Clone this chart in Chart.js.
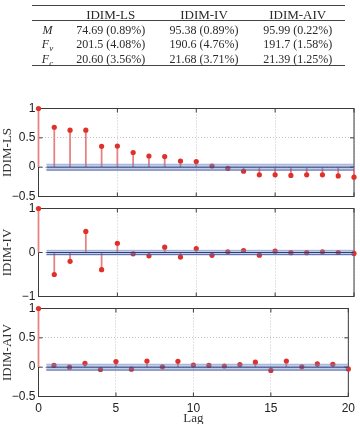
<!DOCTYPE html>
<html><head><meta charset="utf-8">
<script src="https://cdn.jsdelivr.net/npm/chart.js@4.4.0/dist/chart.umd.min.js"></script>
<style>
html,body{margin:0;padding:0;background:#fff;}
#wrap{position:relative;width:360px;height:424px;overflow:hidden;}
canvas{position:absolute;left:0;top:0;}
.t{position:absolute;font-family:"Liberation Serif","Times New Roman",serif;font-size:12px;line-height:12px;color:#2a2a2a;white-space:nowrap;transform:translateX(-50%);}
.t.h{font-size:13px;line-height:13px;}
.t sub{font-size:9px;line-height:9px;vertical-align:baseline;position:relative;top:3px;}
.rule{position:absolute;left:32px;width:313px;background:#444;}
</style></head>
<body><div id="wrap">
<canvas id="c1" width="360" height="424"></canvas>
<canvas id="c2" width="360" height="424"></canvas>
<canvas id="c3" width="360" height="424"></canvas>
</div>
<script>
// ---- data ----
const lags = [0,1,2,3,4,5,6,7,8,9,10,11,12,13,14,15,16,17,18,19,20];
const acfLS  = [1,0.68,0.63,0.63,0.355,0.36,0.25,0.19,0.18,0.105,0.095,0.02,-0.02,-0.07,-0.13,-0.13,-0.14,-0.13,-0.13,-0.15,-0.17];
const acfIV  = [1,-0.50,-0.20,0.48,-0.39,0.21,-0.03,-0.075,0.12,-0.105,0.09,-0.065,0.015,0.045,-0.06,0.03,-0.005,-0.005,0.015,0.0,-0.02];
const acfAIV = [1,0.03,0.0,0.065,-0.04,0.095,-0.035,0.105,0.005,0.10,0.035,0.03,0.02,0.045,0.085,-0.055,0.105,0.005,0.055,0.05,-0.03];
const confBound = 0.05;
const xTicks = [0,5,10,15,20];
const yTicksLS = [-0.5,0,0.5,1];
const yTicksIV = [-1,0,1];
const yTicksAIV = [-0.5,0,0.5,1];
const seriesNames = ['IDIM-LS','IDIM-IV','IDIM-AIV'];
const xTitle = 'Lag';

const tableHeaders = ['IDIM-LS','IDIM-IV','IDIM-AIV'];
const tableRowLabels = ['<i>M</i>','<i>F<sub>v</sub></i>','<i>F<sub>c</sub></i>'];
const tableM  = ['74.69 (0.89%)','95.38 (0.89%)','95.99 (0.22%)'];
const tableFv = ['201.5 (4.08%)','190.6 (4.76%)','191.7 (1.58%)'];
const tableFc = ['20.60 (3.56%)','21.68 (3.71%)','21.39 (1.25%)'];

// ---- table ----
const wrap = document.getElementById('wrap');
function addText(html, x, y, cls){
  const d = document.createElement('div');
  d.className = 't' + (cls ? ' ' + cls : '');
  d.innerHTML = html;
  d.style.left = x + 'px';
  d.style.top = y + 'px';
  wrap.appendChild(d);
}
function addRule(y, h){
  const d = document.createElement('div');
  d.className = 'rule';
  d.style.top = y + 'px';
  d.style.height = h + 'px';
  wrap.appendChild(d);
}
const colX = [110.7, 204, 297.7];
const labelX = 47.5;
addRule(5, 1.2); addRule(20.3, 0.7); addRule(65.2, 1.2);
tableHeaders.forEach((h,i)=>addText(h, colX[i], 7.5, 'h'));
const rowsVals = [tableM, tableFv, tableFc];
const rowY = [23.5, 37.5, 52.5];
rowsVals.forEach((row,r)=>{
  addText(tableRowLabels[r], labelX, rowY[r]);
  row.forEach((v,i)=>addText(v, colX[i], rowY[r]));
});

// ---- charts ----
function fmt(v){ return (v < 0 ? '\u2212' : '') + Math.abs(v); }

function makeChart(id, values, yTicks, name, areaTop, areaBottom, showX){
  const yMin = yTicks[0], yMax = yTicks[yTicks.length-1];
  const xH = showX ? 27 : 0;
  const boxPlugin = {
    id: 'box' + id,
    beforeDatasetsDraw(chart){
      const {ctx, chartArea: a, scales: {x, y}} = chart;
      ctx.save();
      ctx.strokeStyle = '#3c3c3c';
      ctx.lineWidth = 1;
      ctx.strokeRect(a.left, a.top, a.right - a.left, a.bottom - a.top);
      const L = 4;
      ctx.beginPath();
      xTicks.forEach(v=>{
        const px = x.getPixelForValue(v);
        ctx.moveTo(px, a.top); ctx.lineTo(px, a.top + L);
        ctx.moveTo(px, a.bottom); ctx.lineTo(px, a.bottom - L);
      });
      yTicks.forEach(v=>{
        const py = y.getPixelForValue(v);
        ctx.moveTo(a.left, py); ctx.lineTo(a.left + L, py);
        ctx.moveTo(a.right, py); ctx.lineTo(a.right - L, py);
      });
      ctx.stroke();
      ctx.restore();
    }
  };
  const pts = lags.map((l,i)=>({x:l, y:values[i]}));
  return new Chart(document.getElementById(id), {
    type: 'scatter',
    data: {
      datasets: [
        { type:'line', data:[{x:0.5,y:0},{x:20,y:0}], borderColor:'#2e3c7a', borderWidth:1, pointRadius:0, fill:false, order:0 },
        { type:'line', data:[{x:0.5,y:confBound},{x:20,y:confBound}], borderColor:'rgba(110,135,195,0.55)', borderWidth:1, pointRadius:0, fill:false, order:0 },
        { type:'line', data:[{x:0.5,y:-confBound},{x:20,y:-confBound}], borderColor:'#4a5c9e', borderWidth:1, pointRadius:0, fill:'-1', backgroundColor:'rgba(110,138,195,0.42)', order:0 },
        { type:'scatter', data:pts, pointRadius:2.6, pointBackgroundColor:'#e0302a', pointBorderWidth:0, clip:false, order:1 },
        { type:'bar', data:pts, backgroundColor:'#e88080', barThickness:1.1, borderWidth:0, clip:false, order:2, grouped:false }
      ]
    },
    options: {
      responsive:false, animation:false, events:[],
      layout:{ padding:{ left:0, right:6, top:areaTop, bottom:424 - areaBottom - xH } },
      plugins:{ legend:{display:false}, tooltip:{enabled:false} },
      scales:{
        x:{
          type:'linear', min:0, max:20, offset:false,
          afterBuildTicks(s){ s.ticks = xTicks.map(v=>({value:v})); },
          afterFit(s){ s.height = xH; },
          grid:{ color:'#c4c4c4', lineWidth:1, drawTicks:false, offset:false },
          border:{ display:false, dash:[1,2] },
          ticks:{ display:showX, padding:5, color:'#222', font:{family:'Liberation Sans', size:12}, maxRotation:0 },
          title:{ display:showX, text:xTitle, color:'#333', font:{family:'Liberation Serif', size:13, lineHeight:0.8}, padding:{top:0,bottom:0} }
        },
        y:{
          type:'linear', min:yMin, max:yMax,
          afterBuildTicks(s){ s.ticks = yTicks.map(v=>({value:v})); },
          afterFit(s){ s.width = 38.5; },
          grid:{ color:'#c4c4c4', lineWidth:1, drawTicks:false },
          border:{ display:false, dash:[1,2] },
          ticks:{ padding:3, color:'#222', font:{family:'Liberation Sans', size:12}, callback:(v)=>fmt(v) },
          title:{ display:true, text:name, color:'#333', font:{family:'Liberation Serif', size:13, lineHeight:1.15}, padding:{top:0,bottom:0} }
        }
      }
    },
    plugins:[boxPlugin]
  });
}
makeChart('c1', acfLS, yTicksLS, seriesNames[0], 108.5, 196.5, false);
makeChart('c2', acfIV, yTicksIV, seriesNames[1], 208.5, 296.5, false);
makeChart('c3', acfAIV, yTicksAIV, seriesNames[2], 308.5, 396.5, true);
</script>
</body></html>
